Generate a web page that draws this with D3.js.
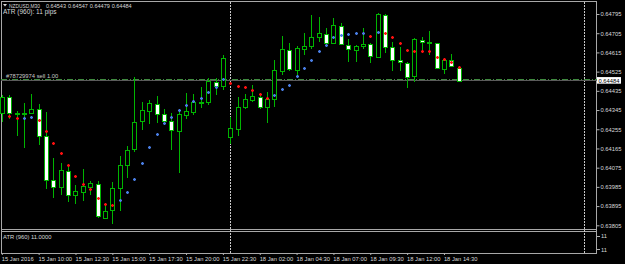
<!DOCTYPE html>
<html>
<head>
<meta charset="utf-8">
<script src="https://cdn.jsdelivr.net/npm/d3@7"></script>
<style>
  html, body { margin: 0; padding: 0; background: #000; }
  svg { display: block; }
  text { font-family: "Liberation Sans", Arial, sans-serif; font-size: 5.8px; fill: #d8d8d8; }
  .axis path.domain { display: none; }
  .axis line { stroke: #b0b0b0; }
  .axis text { font-size: 5.8px; }
</style>
</head>
<body>
<div id="chart"></div>
<script>
// NZDUSD M30 bars, 15 Jan 07:30 -> 18 Jan 15:00 (index 0..62)
const symbol = "NZDUSD,M30";
const openP = [0.64331, 0.64406, 0.64332, 0.64331, 0.64328, 0.64349, 0.64225, 0.64019, 0.63985, 0.64059,
  0.63945, 0.63958, 0.63982, 0.63998, 0.63843, 0.63877, 0.63978, 0.64085, 0.64159, 0.64290,
  0.64340, 0.64373, 0.64326, 0.64293, 0.64248, 0.64323, 0.64337, 0.64382, 0.64379, 0.64476,
  0.64455, 0.64217, 0.64254, 0.64356, 0.64388, 0.64407, 0.64360, 0.64395, 0.64524, 0.64626,
  0.64532, 0.64632, 0.64642, 0.64686, 0.64703, 0.64658, 0.64739, 0.64650, 0.64629, 0.64648,
  0.64653, 0.64595, 0.64790, 0.64639, 0.64578, 0.64567, 0.64501, 0.64673, 0.64664, 0.64658,
  0.64540, 0.64578, 0.64543];
const highP = [0.64415, 0.64415, 0.64340, 0.64378, 0.64422, 0.64375, 0.64337, 0.64121, 0.64099, 0.64090,
  0.63993, 0.64068, 0.64012, 0.64012, 0.63906, 0.64009, 0.64129, 0.64175, 0.64500, 0.64382,
  0.64392, 0.64410, 0.64349, 0.64329, 0.64349, 0.64426, 0.64418, 0.64453, 0.64493, 0.64496,
  0.64603, 0.64312, 0.64407, 0.64420, 0.64462, 0.64420, 0.64429, 0.64579, 0.64692, 0.64658,
  0.64645, 0.64704, 0.64790, 0.64782, 0.64728, 0.64775, 0.64751, 0.64676, 0.64650, 0.64728,
  0.64660, 0.64801, 0.64793, 0.64665, 0.64642, 0.64571, 0.64681, 0.64688, 0.64715, 0.64660,
  0.64587, 0.64607, 0.64547];
const lowP = [0.64288, 0.64302, 0.64223, 0.64166, 0.64328, 0.64181, 0.63973, 0.63933, 0.63946, 0.63915,
  0.63904, 0.63920, 0.63946, 0.63837, 0.63834, 0.63809, 0.63871, 0.64027, 0.64149, 0.64252,
  0.64279, 0.64282, 0.64274, 0.64157, 0.64051, 0.64301, 0.64321, 0.64353, 0.64368, 0.64415,
  0.64439, 0.64185, 0.64223, 0.64348, 0.64384, 0.64348, 0.64285, 0.64357, 0.64509, 0.64529,
  0.64504, 0.64603, 0.64631, 0.64665, 0.64651, 0.64654, 0.64650, 0.64571, 0.64571, 0.64631,
  0.64564, 0.64592, 0.64611, 0.64529, 0.64529, 0.64446, 0.64477, 0.64611, 0.64603, 0.64540,
  0.64514, 0.64545, 0.64479];
const closeP = [0.64406, 0.64331, 0.64330, 0.64330, 0.64349, 0.64224, 0.64019, 0.63985, 0.64063, 0.63945,
  0.63965, 0.63987, 0.64002, 0.63848, 0.63874, 0.63982, 0.64087, 0.64156, 0.64287, 0.64343,
  0.64376, 0.64326, 0.64293, 0.64251, 0.64326, 0.64340, 0.64382, 0.64381, 0.64479, 0.64456,
  0.64587, 0.64259, 0.64357, 0.64395, 0.64409, 0.64360, 0.64396, 0.64531, 0.64629, 0.64536,
  0.64634, 0.64646, 0.64686, 0.64704, 0.64659, 0.64743, 0.64653, 0.64629, 0.64646, 0.64656,
  0.64598, 0.64795, 0.64642, 0.64579, 0.64567, 0.64503, 0.64676, 0.64665, 0.64659, 0.64542,
  0.64581, 0.64548, 0.64484];

// signal dots (red = down, blue = up)
const sigValue = [null, 0.64317, 0.64309, 0.64309, 0.64313, 0.64299, 0.64248, 0.64190, 0.64146, 0.64087,
  0.64038, 0.64000, 0.63975, 0.63933, 0.63903, 0.63901, 0.63924, 0.63960, 0.64024, 0.64096,
  0.64171, 0.64232, 0.64282, 0.64313, 0.64343, 0.64367, 0.64388, 0.64402, 0.64431, 0.64451,
  0.64492, 0.64471, 0.64459, 0.64451, 0.64439, 0.64418, 0.64402, 0.64414, 0.64445, 0.64462,
  0.64503, 0.64540, 0.64581, 0.64623, 0.64651, 0.64686, 0.64698, 0.64700, 0.64704, 0.64704,
  0.64693, 0.64712, 0.64704, 0.64686, 0.64660, 0.64626, 0.64623, 0.64623, 0.64621, 0.64595,
  0.64584, 0.64568, 0.64546];
const sigDir = [null, "dn", "dn", "up", "up", "dn", "dn", "dn", "dn", "dn",
  "dn", "dn", "dn", "dn", "dn", "dn", "up", "up", "up", "up",
  "up", "up", "up", "up", "up", "up", "up", "up", "up", "up",
  "up", "dn", "dn", "dn", "dn", "dn", "dn", "up", "up", "up",
  "up", "up", "up", "up", "up", "up", "up", "up", "up", "up",
  "dn", "up", "dn", "dn", "dn", "dn", "dn", "dn", "dn", "dn",
  "dn", "dn", "dn"];

const timeTickBars = [0, 5, 10, 15, 20, 25, 30, 35, 40, 45, 50, 55, 60];
const timeTickLabels = ["15 Jan 2016", "15 Jan 10:00", "15 Jan 12:30", "15 Jan 15:00", "15 Jan 17:30",
  "15 Jan 20:00", "15 Jan 22:30", "18 Jan 02:00", "18 Jan 04:30", "18 Jan 07:00", "18 Jan 09:30",
  "18 Jan 12:00", "18 Jan 14:30"];
const priceTicks = [0.64795, 0.64705, 0.64615, 0.64525, 0.64435, 0.64345, 0.64255, 0.64165,
  0.64075, 0.63985, 0.63895, 0.63805];
const separatorBars = [31, 79]; // 18 Jan 00:00, 19 Jan 00:00
const orderLabel = "#78729974 sell 1.00";
const orderPrice = 0.64492;
const atrPeriod = 960;
const atrValue = 11.0;

function drawChart(id) {
  const w = 625;
  const h = 264;
  const plotL = 1, plotR = 597;
  const mainTop = 1, mainBot = 229.5;
  const subTop = 231.5, subBot = 253;

  const svg = d3.select(`#${id}`).append("svg")
    .attr("width", w).attr("height", h)
    .style("background", "#000");

  const x = d3.scaleLinear().domain([0, 79]).range([1.8, 584]);
  const y = d3.scaleLinear().domain([0.63805, 0.64795]).range([225.3, 14]);

  const green = "#00b400";
  const lines = svg.append("g").attr("shape-rendering", "crispEdges");

  // window frames
  const frame = [
    [plotL, mainTop + 0.5, plotR, mainTop + 0.5],
    [plotL, mainBot, plotR, mainBot],
    [plotL, subTop, plotR, subTop],
    [plotL, subBot, plotR, subBot],
    [plotL + 0.5, mainTop, plotL + 0.5, subBot],
    [plotR - 0.5, mainTop, plotR - 0.5, subBot],
  ];
  lines.selectAll(".frame").data(frame).enter().append("line")
    .attr("class", "frame")
    .attr("x1", (d) => d[0]).attr("y1", (d) => d[1]).attr("x2", (d) => d[2]).attr("y2", (d) => d[3])
    .attr("stroke", "#a8a8a8");

  // day separators
  lines.selectAll(".sep").data(separatorBars).enter().append("line")
    .attr("class", "sep")
    .attr("x1", (d) => Math.round(x(d)) + 0.5).attr("x2", (d) => Math.round(x(d)) + 0.5)
    .attr("y1", mainTop + 1).attr("y2", subBot)
    .attr("stroke", "#c8c8c8").attr("stroke-dasharray", "2,1");

  // bid line and order line
  const last = closeP.length - 1;
  lines.append("line").attr("x1", plotL).attr("x2", plotR)
    .attr("y1", Math.round(y(closeP[last])) + 0.5).attr("y2", Math.round(y(closeP[last])) + 0.5)
    .attr("stroke", "#5a5a5a");
  lines.append("line").attr("x1", plotL).attr("x2", plotR)
    .attr("y1", Math.round(y(orderPrice)) + 0.5).attr("y2", Math.round(y(orderPrice)) + 0.5)
    .attr("stroke", "#3f8a3f").attr("stroke-dasharray", "6,2,1,2");

  // candles
  const idx = d3.range(openP.length);
  const candles = svg.append("g").attr("shape-rendering", "crispEdges")
    .selectAll("g").data(idx).enter().append("g");
  candles.append("line")
    .attr("x1", (i) => Math.round(x(i)) + 0.5).attr("x2", (i) => Math.round(x(i)) + 0.5)
    .attr("y1", (i) => y(highP[i])).attr("y2", (i) => y(lowP[i]))
    .attr("stroke", green);
  candles.append("rect")
    .attr("x", (i) => Math.round(x(i)) - 1.5)
    .attr("width", 4)
    .attr("y", (i) => Math.round(Math.min(y(openP[i]), y(closeP[i]))) + 0.5)
    .attr("height", (i) => Math.max(1, Math.round(Math.abs(y(openP[i]) - y(closeP[i])))))
    .attr("fill", (i) => (closeP[i] >= openP[i] ? "#000" : "#fff"))
    .attr("stroke", green);

  // signal markers
  const sigColor = { up: "#4a7fe6", dn: "#ff1010" };
  svg.append("g").selectAll("path")
    .data(idx.filter((i) => sigValue[i] !== null))
    .enter().append("path")
    .attr("d", (i) => {
      const cx = Math.round(x(i)) + 0.5, cy = Math.round(y(sigValue[i])) + 0.5;
      return `M${cx - 1.5},${cy}H${cx + 1.5}M${cx},${cy - 1.5}V${cy + 1.5}`;
    })
    .attr("stroke", (i) => sigColor[sigDir[i]])
    .attr("stroke-width", 1.4);

  // price axis
  const yAxis = svg.append("g").attr("class", "axis")
    .attr("transform", `translate(${plotR - 0.5},0)`)
    .call(d3.axisRight(y).tickValues(priceTicks).tickSize(3).tickPadding(1).tickFormat(d3.format(".5f")));
  yAxis.selectAll("text").attr("fill", "#d8d8d8");

  // current price box
  const fmt = d3.format(".5f");
  const py = y(closeP[last]);
  svg.append("rect").attr("x", plotR).attr("y", py - 3.3).attr("width", 24).attr("height", 6.6).attr("fill", "#fff");
  svg.append("text").attr("x", plotR + 1.5).attr("y", py + 2.2).style("fill", "#000").text(fmt(closeP[last]));

  // time axis
  const xAxis = svg.append("g").attr("class", "axis")
    .attr("transform", `translate(0,${subBot})`)
    .call(d3.axisBottom(x).tickValues(timeTickBars).tickSize(2).tickPadding(2)
      .tickFormat((d, i) => timeTickLabels[i]));
  xAxis.selectAll("text").attr("text-anchor", "start").attr("dx", "-0.6").attr("fill", "#d8d8d8");

  // header
  svg.append("path").attr("d", "M3,4H7L5,6.5Z").attr("fill", "#d8d8d8");
  svg.append("text").attr("x", 9).attr("y", 7.8)
    .attr("textLength", 31).attr("lengthAdjust", "spacingAndGlyphs").text(symbol);
  const ohlc = [openP[last], highP[last], lowP[last], closeP[last]];
  svg.selectAll(".hdr").data(ohlc).enter().append("text")
    .attr("class", "hdr")
    .attr("x", (d, i) => 46 + i * 21.9).attr("y", 7.8)
    .attr("textLength", 20).attr("lengthAdjust", "spacingAndGlyphs")
    .text((d) => fmt(d));
  svg.append("text").attr("x", 3).attr("y", 14).style("font-size", "6.5px")
    .text(`ATR (${atrPeriod}): ${Math.round(atrValue)} pips`);

  // order label
  svg.append("text").attr("x", 6).attr("y", 77.8).style("fill", "#c8c8c8").text(orderLabel);

  // ATR sub-window
  svg.append("text").attr("x", 3).attr("y", 238.8).text(`ATR (${atrPeriod}) ${atrValue.toFixed(4)}`);
  const subLabels = [236.2, 249.4];
  svg.selectAll(".subl").data(subLabels).enter().append("text")
    .attr("class", "subl").attr("x", 601).attr("y", (d) => d + 2.1)
    .text(Math.round(atrValue));
  lines.selectAll(".subt").data(subLabels).enter().append("line")
    .attr("class", "subt").attr("x1", plotR).attr("x2", plotR + 2.5)
    .attr("y1", (d) => Math.round(d) + 0.5).attr("y2", (d) => Math.round(d) + 0.5)
    .attr("stroke", "#b0b0b0");
}

document.addEventListener("DOMContentLoaded", function () {
  drawChart("chart");
});
</script>
</body>
</html>
